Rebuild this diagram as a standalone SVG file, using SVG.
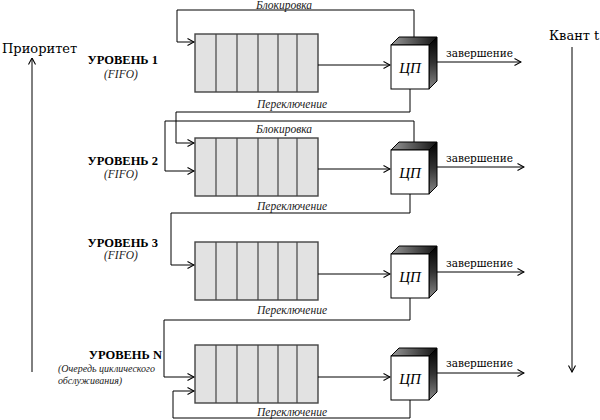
<svg xmlns="http://www.w3.org/2000/svg" width="600" height="420" viewBox="0 0 600 420">
<style>
.q{fill:#e2e2e2;stroke:#444;stroke-width:1.4}
.dv{stroke:#444;stroke-width:1.2}
.ln{fill:none;stroke:#000;stroke-width:1}
.front{fill:#fff;stroke:#000;stroke-width:1}
.top{fill:url(#gt);stroke:#000;stroke-width:1}
.side{fill:url(#gs);stroke:#000;stroke-width:1}
.lvl{font-weight:bold;font-size:12.5px}
.it{font-style:italic;font-size:11.5px;fill:#222}
.sm{font-style:italic;font-size:10px;fill:#222}
.cp{font-style:italic;font-size:15px;text-anchor:middle}
.lab{font-size:10.5px}
.big{font-size:13px}
</style>
<defs>
<marker id="ar" viewBox="0 0 8 8" refX="7.5" refY="4" markerWidth="8" markerHeight="8" markerUnits="userSpaceOnUse" orient="auto">
<path d="M1,0.5 L7.5,4 L1,7.5" fill="none" stroke="#000" stroke-width="1.1"/>
</marker>
<linearGradient id="gt" x1="0" y1="0" x2="1" y2="0">
<stop offset="0" stop-color="#999"/><stop offset="1" stop-color="#111"/>
</linearGradient>
<linearGradient id="gs" x1="0" y1="0" x2="0" y2="1">
<stop offset="0" stop-color="#000"/><stop offset="0.5" stop-color="#333"/><stop offset="1" stop-color="#888"/>
</linearGradient>
<g id="queue">
<rect class="q" x="0" y="0" width="123" height="58"/>
<line class="dv" x1="21" y1="0" x2="21" y2="58"/>
<line class="dv" x1="42" y1="0" x2="42" y2="58"/>
<line class="dv" x1="63" y1="0" x2="63" y2="58"/>
<line class="dv" x1="83" y1="0" x2="83" y2="58"/>
<line class="dv" x1="102" y1="0" x2="102" y2="58"/>
</g>
<g id="cpu">
<polygon class="top" points="0,0 38,0 46,-8 8,-8"/>
<polygon class="side" points="38,0 46,-8 46,36 38,44"/>
<rect class="front" x="0" y="0" width="38" height="44"/>
<text class="cp" x="19" y="28" font-family="Liberation Serif, Times New Roman, serif">ЦП</text>
</g>
</defs>

<g id="axes" font-family="DejaVu Serif, Liberation Serif, serif">
<text class="big" x="2" y="53">Приоритет</text>
<line class="ln" x1="32" y1="372" x2="32" y2="58" marker-end="url(#ar)"/>
<text class="big" x="549" y="40">Квант t</text>
<line class="ln" x1="572" y1="47" x2="572" y2="372" marker-end="url(#ar)"/>
</g>

<g font-family="Liberation Serif, Times New Roman, serif">
<g id="level1">
<text class="lvl" x="158" y="64" text-anchor="end">УРОВЕНЬ 1</text>
<text class="it" x="104" y="78">(FIFO)</text>
<use href="#queue" x="195" y="34"/>
<use href="#cpu" x="391" y="45"/>
<text class="lab" x="446" y="57" font-family="DejaVu Serif, serif">завершение</text>
</g>
<g id="level2">
<text class="lvl" x="158" y="165" text-anchor="end">УРОВЕНЬ 2</text>
<text class="it" x="104" y="178">(FIFO)</text>
<use href="#queue" x="195" y="138"/>
<use href="#cpu" x="391" y="150"/>
<text class="lab" x="446" y="162" font-family="DejaVu Serif, serif">завершение</text>
</g>
<g id="level3">
<text class="lvl" x="158" y="247" text-anchor="end">УРОВЕНЬ 3</text>
<text class="it" x="104" y="259">(FIFO)</text>
<use href="#queue" x="195" y="242"/>
<use href="#cpu" x="391" y="254"/>
<text class="lab" x="446" y="267" font-family="DejaVu Serif, serif">завершение</text>
</g>
<g id="levelN">
<text class="lvl" x="162" y="359" text-anchor="end">УРОВЕНЬ N</text>
<text class="sm" x="58" y="372">(Очередь циклического</text>
<text class="sm" x="58" y="384">обслуживания)</text>
<use href="#queue" x="195" y="345"/>
<use href="#cpu" x="391" y="356"/>
<text class="lab" x="446" y="367" font-family="DejaVu Serif, serif">завершение</text>
</g>

<g id="connectors">
<line class="ln" x1="318" y1="65" x2="390" y2="65" marker-end="url(#ar)"/>
<line class="ln" x1="437" y1="62" x2="521" y2="62" marker-end="url(#ar)"/>
<line class="ln" x1="318" y1="169" x2="390" y2="169" marker-end="url(#ar)"/>
<line class="ln" x1="437" y1="167" x2="524" y2="167" marker-end="url(#ar)"/>
<line class="ln" x1="318" y1="274" x2="390" y2="274" marker-end="url(#ar)"/>
<line class="ln" x1="437" y1="272" x2="524" y2="272" marker-end="url(#ar)"/>
<line class="ln" x1="318" y1="377" x2="390" y2="377" marker-end="url(#ar)"/>
<line class="ln" x1="437" y1="373" x2="524" y2="373" marker-end="url(#ar)"/>

<polyline class="ln" points="414,37 414,10 177,10 177,42 194,42" marker-end="url(#ar)"/>
<polyline class="ln" points="410,89 410,112 176,112 176,143 194,143" marker-end="url(#ar)"/>
<polyline class="ln" points="414,142 414,121 165,121 165,171 194,171" marker-end="url(#ar)"/>
<polyline class="ln" points="410,194 410,213 171,213 171,265 194,265" marker-end="url(#ar)"/>
<polyline class="ln" points="410,298 410,320 164,320 164,377 194,377" marker-end="url(#ar)"/>
<polyline class="ln" points="410,400 410,418 173,418 173,391 194,391" marker-end="url(#ar)"/>

<text class="it" x="284" y="9" text-anchor="middle">Блокировка</text>
<text class="it" x="292" y="108" text-anchor="middle">Переключение</text>
<text class="it" x="284" y="133" text-anchor="middle">Блокировка</text>
<text class="it" x="292" y="210" text-anchor="middle">Переключение</text>
<text class="it" x="292" y="314" text-anchor="middle">Переключение</text>
<text class="it" x="292" y="416" text-anchor="middle">Переключение</text>
</g>
</g>
</svg>
